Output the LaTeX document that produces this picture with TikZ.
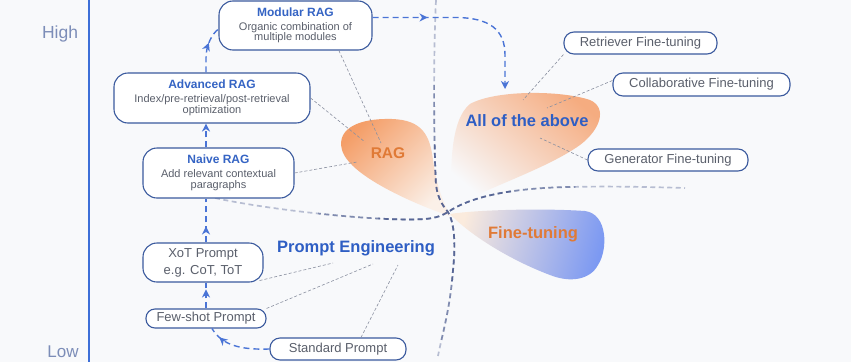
\documentclass[tikz,border=0pt]{standalone}
\usepackage{fontspec}
\setmainfont{Liberation Sans}
\usetikzlibrary{arrows.meta,decorations.markings}
\definecolor{bg}{HTML}{F8F9FB}
\definecolor{boxline}{HTML}{3B5A9E}
\definecolor{titleblue}{HTML}{3564C4}
\definecolor{subgrey}{HTML}{5A5F6B}
\definecolor{flowblue}{HTML}{4A74D6}
\definecolor{navy}{HTML}{3E4F86}
\definecolor{thingrey}{HTML}{8A90A0}
\definecolor{labelorange}{HTML}{E07A36}
\definecolor{peblue}{HTML}{2E5EC4}
\definecolor{axisblue}{HTML}{3D6FD8}
\definecolor{hilo}{HTML}{7C8DB8}
\definecolor{ragA}{HTML}{F49E68}
\definecolor{ragB}{HTML}{F8C6A2}
\definecolor{ragC}{HTML}{FBF0E8}
\definecolor{allA}{HTML}{F5AC80}
\definecolor{allB}{HTML}{F9D3BA}
\definecolor{ftA}{HTML}{FBEBDD}
\definecolor{ftB}{HTML}{D5DDF8}
\definecolor{ftC}{HTML}{7C99F2}
\newcommand\boxtitle{\fontsize{12}{14}\selectfont\bfseries\color{titleblue}}
\newcommand\boxsub{\fontsize{11}{10.5}\selectfont}
\begin{document}
\begin{tikzpicture}[x=1pt,y=-1pt,
  bigbox/.style={draw=boxline, line width=1.1pt, fill=white, rounded corners=14pt, align=center, inner sep=0pt, text=subgrey, font=\boxsub},
  pill/.style={draw=boxline, line width=1.1pt, fill=white, rounded corners=10pt, align=center, inner sep=0pt, text=subgrey, font=\fontsize{13}{17}\selectfont},
  flow/.style={draw=flowblue, line width=1.4pt, dash pattern=on 6pt off 4pt},
  headend/.style={-{Stealth[length=8pt,width=8pt,inset=2.5pt]}},
  midhead/.style={postaction={decorate}, decoration={markings, mark=at position #1 with {\arrow{Stealth[length=8pt,width=8pt,inset=2.5pt]}}}},
  guide/.style={draw=thingrey, line width=0.6pt, dash pattern=on 3pt off 2pt},
  crossline/.style={draw=navy, line width=1.7pt, dash pattern=on 5pt off 3.5pt},
  biglabel/.style={font=\fontsize{16.5}{18}\selectfont\bfseries, inner sep=0pt},
]
\fill[bg] (0,0) rectangle (851,362);
\useasboundingbox (0,0) rectangle (851,362);

% blobs
\shade[top color=ragA, middle color=ragB, bottom color=ragC, shading angle=45]
  (450,216) .. controls (425,208) and (350,178) .. (342,150) .. controls (336,128) and (360,118) .. (392,119) .. controls (422,120) and (430,135) .. (433,160) .. controls (437,190) and (445,205) .. cycle;
\shade[top color=allA, middle color=allB, bottom color=bg, shading angle=-40]
  (452,208) .. controls (450,170) and (450,120) .. (470,104) .. controls (495,90) and (560,90) .. (590,100) .. controls (608,108) and (600,130) .. (580,145) .. controls (545,170) and (480,190) .. cycle;
\shade[top color=ftA, middle color=ftB, bottom color=ftC, shading angle=75]
  (450,214) .. controls (475,210) and (540,208) .. (585,211) .. controls (608,214) and (608,250) .. (598,265) .. controls (590,280) and (570,283) .. (550,275) .. controls (510,260) and (470,235) .. cycle;

% crossing dashed lines
\foreach \r/\o in {1000/0.35, 130/0.45, 70/0.6} {
  \begin{scope}
    \clip (448,212) circle[radius=\r];
    \draw[crossline, draw opacity=\o] (436,0) .. controls (433,60) and (434,150) .. (436,185) .. controls (438,200) and (444,207) .. (448,212) .. controls (454,222) and (456,242) .. (453,270) .. controls (450,310) and (442,335) .. (438,356);
    \draw[crossline, draw opacity=\o] (215,198) .. controls (270,210) and (380,222) .. (425,219) .. controls (437,218) and (443,215) .. (448,212) .. controls (470,197) and (510,188) .. (570,187) .. controls (610,186) and (650,187) .. (685,188);
  \end{scope}
}

% axis
\draw[axisblue, line width=1.6pt] (89,0) -- (89,362);
\node[text=hilo, font=\fontsize{17.5}{20}\selectfont, inner sep=0pt] (high) at (60,34) {High};
\node[text=hilo, font=\fontsize{17}{20}\selectfont, inner sep=0pt] (low) at (63,352) {Low};

% boxes
\node[bigbox, minimum width=153pt, minimum height=49pt] (mod) at (295.5,25.5)
  {{\boxtitle Modular RAG}\\[3.5pt]Organic combination of\\multiple modules};
\node[bigbox, minimum width=196pt, minimum height=50pt] (adv) at (212,98)
  {{\boxtitle Advanced RAG}\\[3.5pt]Index/pre-retrieval/post-retrieval\\optimization};
\node[bigbox, minimum width=151pt, minimum height=50pt] (nv) at (218.5,173)
  {{\boxtitle Naive RAG}\\[3.5pt]Add relevant contextual\\paragraphs};
\node[pill, rounded corners=14pt, minimum width=120pt, minimum height=39pt] (xo) at (203,262.5)
  {XoT Prompt\\e.g. CoT, ToT};
\node[pill, rounded corners=9pt, minimum width=120pt, minimum height=19pt] (fs) at (206,318.5) {Few-shot Prompt};
\node[pill, minimum width=136pt, minimum height=22pt] (std) at (338,349) {Standard Prompt};
\node[pill, minimum width=153pt, minimum height=22pt] (ret) at (640.5,43) {Retriever Fine-tuning};
\node[pill, minimum width=177pt, minimum height=23pt] (colb) at (701.5,84.5) {Collaborative Fine-tuning};
\node[pill, minimum width=160pt, minimum height=22pt] (gen) at (668,160) {Generator Fine-tuning};

% big labels
\node[biglabel, text=labelorange, font=\fontsize{15.5}{18}\selectfont\bfseries] (rag) at (388,153) {RAG};
\node[biglabel, text=labelorange] (ft) at (533,234) {Fine-tuning};
\node[biglabel, text=peblue] (all) at (527,121) {All of the above};
\node[biglabel, text=peblue] (pe) at (356,248) {Prompt Engineering};

% free ends of guide lines
\coordinate (r1) at (381,143);
\coordinate (r2) at (365,142);
\coordinate (r3) at (357,162);
\coordinate (p1) at (333,263);
\coordinate (p2) at (373,264);
\coordinate (p3) at (398,265);
\coordinate (a1) at (523,100);
\coordinate (a2) at (547,108);
\coordinate (a3) at (540,138);
\coordinate (col) at (206,0);
\coordinate (allin) at (505,89);

% guide lines
\draw[guide] (mod.-30) -- (r1);
\draw[guide] (adv.east) -- (r2);
\draw[guide] (nv.east) -- (r3);
\draw[guide] ([shift={(-4pt,2pt)}]xo.south east) -- (p1);
\draw[guide] (fs.north east) -- (p2);
\draw[guide] ([xshift=23pt]std.north) -- (p3);
\draw[guide] (ret.south west) -- (a1);
\draw[guide] ([yshift=4pt]colb.west) -- (a2);
\draw[guide] (gen.west) -- (a3);

% flow arrows
\draw[flow, midhead=0.82] (std.west) .. controls (240,350) and (222,345) .. ([xshift=6pt]fs.south);
\draw[flow, midhead=19pt] (fs.north -| col) -- (xo.south -| col);
\draw[flow, midhead=16pt] (xo.north -| col) -- (nv.south -| col);
\draw[flow, headend] (nv.north -| col) -- (adv.south -| col);
\draw[flow, midhead=30pt] (adv.north -| col) -- (206,58) .. controls (206,45) and (212,34) .. ([yshift=-3.5pt]mod.west);
\draw[flow, headend, midhead=55pt] ([yshift=8pt]mod.east) -- (455,17.5) .. controls (490,17.5) and (505,30) .. (505,55) -- (allin);
\end{tikzpicture}
\end{document}
